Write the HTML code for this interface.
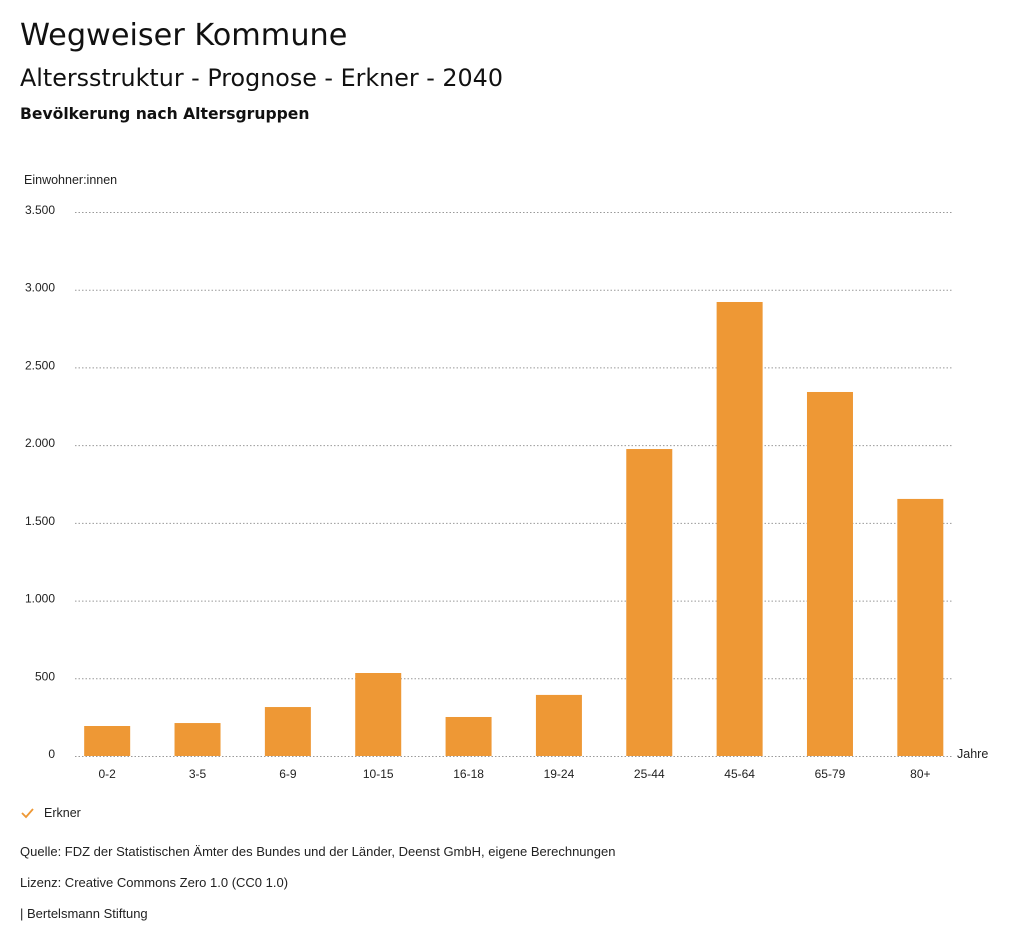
<!DOCTYPE html>
<html><head><meta charset="utf-8">
<style>
body{margin:0;background:#fff;width:1024px;height:946px;overflow:hidden;font-family:"Liberation Sans",sans-serif;color:#111}
.t1{position:absolute;left:20px;top:18px;font:30.3px "DejaVu Sans",sans-serif}
.t2{position:absolute;left:20px;top:64px;font:23.8px "DejaVu Sans",sans-serif}
.t3{position:absolute;left:20px;top:105px;font:bold 15.6px "DejaVu Sans",sans-serif}
.ft{position:absolute;left:20px;font-size:13px;color:#222}
</style></head><body>
<div class="t1">Wegweiser Kommune</div>
<div class="t2">Altersstruktur - Prognose - Erkner - 2040</div>
<div class="t3">Bevölkerung nach Altersgruppen</div>
<svg id="chart" width="1024" height="946" style="position:absolute;left:0;top:0">
<text x="24" y="184" font-size="12.5" fill="#222">Einwohner:innen</text>
<text x="957" y="758" font-size="12.5" fill="#222">Jahre</text>
<g id="grid"></g><g id="bars"></g><g id="xl"></g>
<g>
<polyline points="22,813 26,817 33,809" fill="none" stroke="#ee9835" stroke-width="1.8"/>
<text x="44" y="817" font-size="12.5" fill="#222">Erkner</text></g>
</svg>
<div class="ft" style="top:844px">Quelle: FDZ der Statistischen Ämter des Bundes und der Länder, Deenst GmbH, eigene Berechnungen</div>
<div class="ft" style="top:875px">Lizenz: Creative Commons Zero 1.0 (CC0 1.0)</div>
<div class="ft" style="top:906px">| Bertelsmann Stiftung</div>
<script>
const categories=["0-2","3-5","6-9","10-15","16-18","19-24","25-44","45-64","65-79","80+"];
const values=[193,212,315,534,251,393,1975,2921,2342,1654];
const ticks=[0,500,1000,1500,2000,2500,3000,3500];
const tickLabels=["0","500","1.000","1.500","2.000","2.500","3.000","3.500"];
const NS="http://www.w3.org/2000/svg";
const y0=756,y1=212,ymax=3500,x0=62,step=90.35,bw=46;
const Y=v=>y0-(v/ymax)*(y0-y1);
const X=i=>x0+step*i+step/2;
function mk(t,a,p){const e=document.createElementNS(NS,t);for(const k in a)e.setAttribute(k,a[k]);p.appendChild(e);return e;}
const g=document.getElementById('grid'),b=document.getElementById('bars'),xl=document.getElementById('xl');
ticks.forEach((v,i)=>{
 const l=mk('line',{x1:75,x2:953,y1:Y(v)+0.5,y2:Y(v)+0.5,stroke:'#999','stroke-dasharray':'1.5,2','stroke-width':1},g);
 
 
 const t=mk('text',{x:55,y:Y(v)+2,'text-anchor':'end','font-size':12,fill:'#222'},g);
 t.textContent=tickLabels[i];
 
 
});
values.forEach((v,i)=>{
 const r=mk('rect',{x:X(i)-bw/2,y:Y(v),width:bw,height:y0-Y(v),fill:'#ee9835'},b);
 
 
 const t=mk('text',{x:X(i),y:778,'text-anchor':'middle','font-size':12,fill:'#222'},xl);
 t.textContent=categories[i];
 
 
});
</script>
</body></html>
